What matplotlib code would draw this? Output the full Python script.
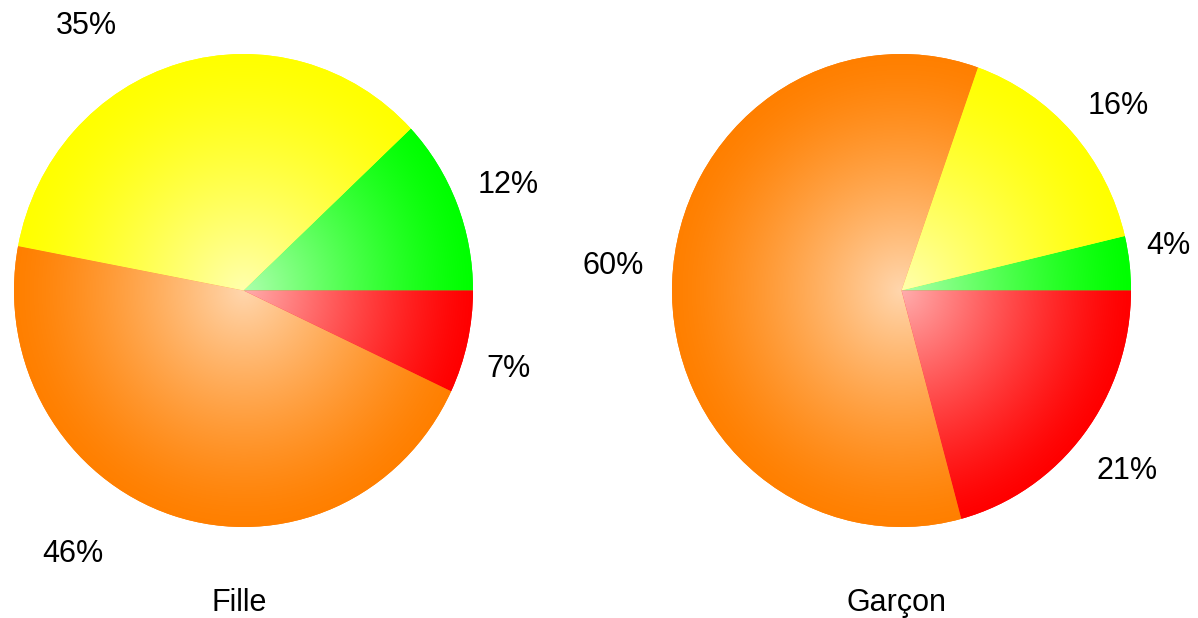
"""Two pie charts (Fille / Garçon) with radial gradient fills."""

import numpy as np
import matplotlib
matplotlib.use('Agg')
import matplotlib.pyplot as plt

plt.rcParams['font.family'] = ['Liberation Sans', 'DejaVu Sans']

# data, counter-clockwise from 3 o'clock
categories = ['vert', 'jaune', 'orange', 'rouge']
fille_values = [12, 35, 46, 7]
garcon_values = [3.7, 15.9, 59.6, 20.8]
pie_titles = ['Fille', 'Garçon']

slice_colors = [(0.0, 1.0, 0.0), (1.0, 1.0, 0.0), (1.0, 0.5, 0.0), (1.0, 0.0, 0.0)]

# label placement (angle shift in degrees, distance in radii)
fille_label_shift = [0, 15, -16, -3]
fille_label_dist = [1.24, 1.32, 1.33, 1.2]
garcon_label_shift = [3, -2, -3, 0]
garcon_label_dist = [1.18, 1.23, 1.26, 1.24]


def gradient_image(color, n=400):
    """RGBA image: light centre fading to the full colour at the rim."""
    g = np.linspace(-1, 1, n)
    xx, yy = np.meshgrid(g, g)
    r = np.clip(np.sqrt(xx**2 + yy**2), 0, 1)
    t = 0.68 * (1 - r) ** 1.3
    img = np.zeros((n, n, 4))
    for i in range(3):
        img[..., i] = color[i] + (1 - color[i]) * t
    img[..., 3] = 1.0
    return img


def draw_pie(ax, values, title, shifts, dists):
    wedges, _ = ax.pie(values, colors=slice_colors, startangle=0,
                       counterclock=True, radius=1,
                       wedgeprops=dict(linewidth=0))
    for w, c in zip(wedges, slice_colors):
        im = ax.imshow(gradient_image(c), extent=(-1, 1, -1, 1),
                       origin='lower', zorder=2, interpolation='bilinear')
        im.set_clip_path(w)

    total = float(sum(values))
    for w, v, s, d in zip(wedges, values, shifts, dists):
        ang = np.deg2rad((w.theta1 + w.theta2) / 2 + s)
        ax.text(d * np.cos(ang), d * np.sin(ang) - 0.01, f'{v / total * 100:.0f}%',
                ha='center', va='center', fontsize=22, clip_on=False, zorder=3)

    ax.text(-0.02, -1.32, title, ha='center', va='center', fontsize=22,
            clip_on=False)
    ax.set_xlim(-1, 1)
    ax.set_ylim(-1, 1)
    ax.set_aspect('auto')
    ax.axis('off')


fig = plt.figure(figsize=(11.98, 6.18), dpi=100)
W, H = 1198, 618
ax1 = fig.add_axes([14 / W, (H - 527) / H, 459 / W, 473 / H])
ax2 = fig.add_axes([672 / W, (H - 527) / H, 459 / W, 473 / H])

draw_pie(ax1, fille_values, pie_titles[0], fille_label_shift, fille_label_dist)
draw_pie(ax2, garcon_values, pie_titles[1], garcon_label_shift, garcon_label_dist)

fig.savefig('out.png', dpi=100)
